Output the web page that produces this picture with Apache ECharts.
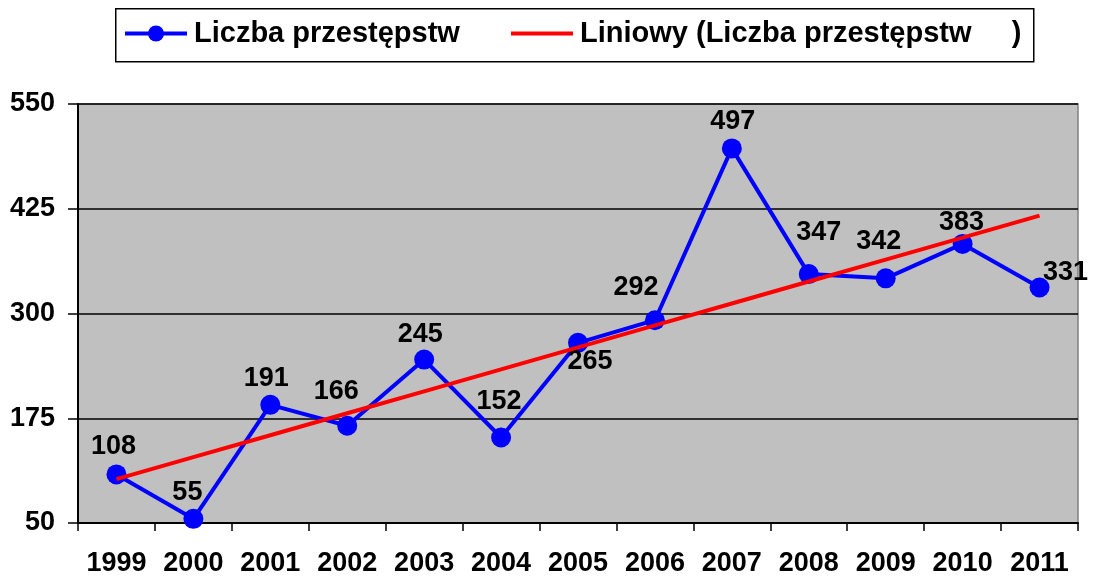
<!DOCTYPE html>
<html><head><meta charset="utf-8">
<script src="https://cdn.jsdelivr.net/npm/echarts@6/dist/echarts.min.js"></script>
<style>html,body{margin:0;padding:0;background:#fff}#c{width:1093px;height:577px}</style>
</head><body><div id="c"></div>
<script>
const years = ['1999','2000','2001','2002','2003','2004','2005','2006','2007','2008','2009','2010','2011'];
const crimes = [108, 55, 191, 166, 245, 152, 265, 292, 497, 347, 342, 383, 331];
const yTicks = [50, 175, 300, 425, 550];
const seriesName = 'Liczba przestępstw';
const trendName = 'Liniowy (Liczba przestępstw     )';
// label placement (styling, relative to each point)
const labelOffsets = [[-3,-28],[-6,-26],[-4,-26],[-11,-34],[-4,-25],[-2,-36],[12,19],[-19,-33],[1,-27],[10,-42],[-7,-37],[-1,-21],[26,-15]];

// linear trend (least squares) computed from the data
const n = crimes.length;
const mx = (n - 1) / 2;
const my = crimes.reduce((a, b) => a + b, 0) / n;
let sxy = 0, sxx = 0;
crimes.forEach((v, i) => { sxy += (i - mx) * (v - my); sxx += (i - mx) * (i - mx); });
const slope = sxy / sxx, icpt = my - slope * mx;
const trend = crimes.map((_, i) => +(icpt + slope * i).toFixed(2));

const FF = '"Liberation Sans", Arial, sans-serif';
const chart = echarts.init(document.getElementById('c'));
chart.setOption({
  animation: false,
  graphic: [{
    type: 'rect', left: 115, top: 8, z: -1,
    shape: { width: 918, height: 53 },
    style: { fill: '#fff', stroke: '#000', lineWidth: 1.5 }
  }],
  legend: [{
    data: [seriesName], left: 123, top: 19, padding: 0, itemWidth: 62, itemHeight: 20, itemGap: 0,
    lineStyle: { width: 4 },
    textStyle: { fontFamily: FF, fontWeight: 'bold', fontSize: 29, color: '#000', padding: [0,0,0,2] }
  }, {
    data: [{ name: trendName, icon: 'path://M0,0 L62,0 L62,4 L0,4 Z' }], left: 511, top: 19, padding: 0,
    itemWidth: 62, itemHeight: 4, itemGap: 0,
    textStyle: { fontFamily: FF, fontWeight: 'bold', fontSize: 29, color: '#000', padding: [0,0,0,2] }
  }],
  grid: {
    left: 78, right: 15, top: 104, bottom: 52, show: true,
    backgroundColor: '#c0c0c0', borderColor: '#808080', borderWidth: 1.5
  },
  xAxis: {
    type: 'category', data: years, boundaryGap: true,
    axisLine: { lineStyle: { color: '#000', width: 2 } },
    axisTick: { show: true, interval: 0, length: 8, lineStyle: { color: '#000', width: 1.5 } },
    axisLabel: { interval: 0, fontFamily: FF, fontWeight: 'bold', fontSize: 27, color: '#000', margin: 27 }
  },
  yAxis: {
    type: 'value', min: yTicks[0], max: yTicks[yTicks.length - 1], interval: yTicks[1] - yTicks[0],
    axisLine: { show: true, lineStyle: { color: '#000', width: 2 } },
    axisTick: { show: true, length: 10, lineStyle: { color: '#000', width: 1.5 } },
    splitLine: { lineStyle: { color: '#000', width: 1.5 } },
    axisLabel: { fontFamily: FF, fontWeight: 'bold', fontSize: 27, color: '#000', margin: 23 }
  },
  series: [{
    name: seriesName, type: 'line',
    data: crimes.map((v, i) => ({ value: v, label: { offset: labelOffsets[i] } })),
    symbol: 'circle', symbolSize: 20, z: 2,
    itemStyle: { color: '#0000ff' },
    lineStyle: { color: '#0000ff', width: 4 },
    label: { show: true, position: 'inside', fontFamily: FF, fontWeight: 'bold', fontSize: 27, color: '#000' }
  }, {
    name: trendName, type: 'line', data: trend, symbol: 'none', z: 3,
    itemStyle: { color: '#ff0000' },
    lineStyle: { color: '#ff0000', width: 4 }
  }]
});
</script></body></html>
